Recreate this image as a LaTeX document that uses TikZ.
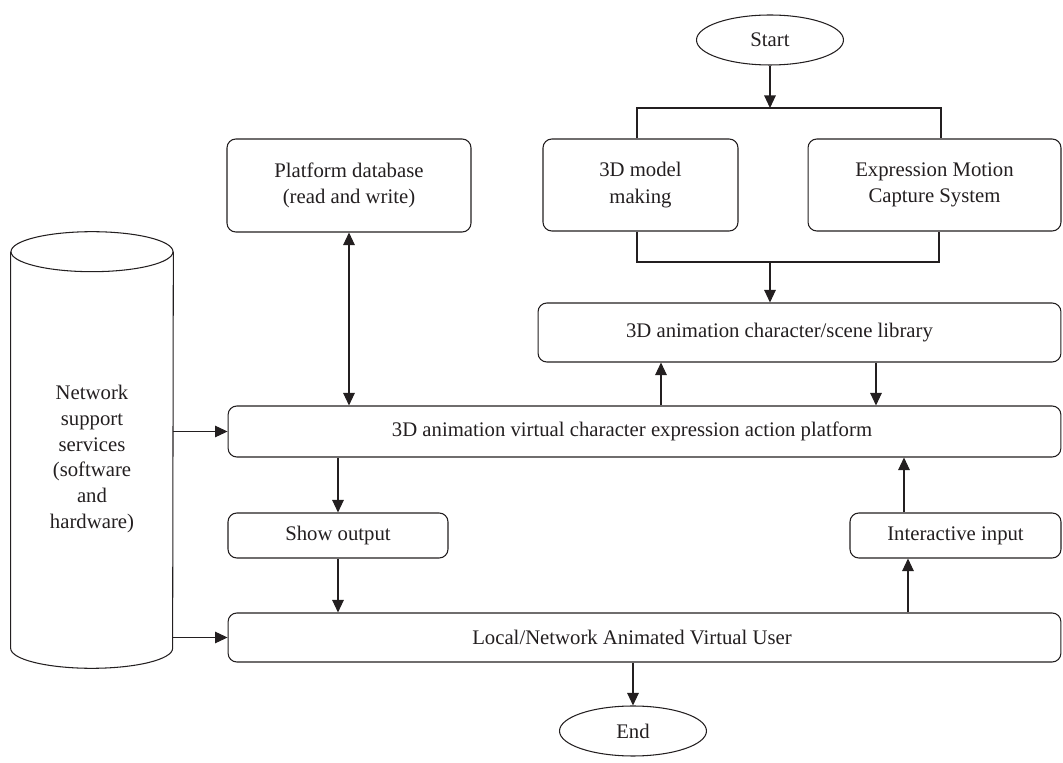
\documentclass[tikz,border=0pt]{standalone}
\usepackage{fontspec}
\setmainfont{Liberation Serif}
\usepackage{tikz}
\usetikzlibrary{shapes.geometric, arrows.meta, positioning, calc}
\definecolor{inkgray}{HTML}{231F20}

\begin{document}
\begin{tikzpicture}[
    x=0.02cm, y=-0.02cm,
    every node/.style={font=\fontsize{11.8}{15}\selectfont, text=inkgray},
    block/.style={rectangle, rounded corners=5pt, draw=inkgray, line width=0.6pt, fill=white, align=center, minimum width=#1},
    terminal/.style={ellipse, draw=inkgray, line width=0.6pt, minimum width=2.94cm, minimum height=1cm},
    line/.style={draw=inkgray, line width=0.6pt},
    arr/.style={-{Triangle[length=0.25cm, width=0.23cm]}, line width=0.6pt, color=inkgray},
    darr/.style={{Triangle[length=0.25cm, width=0.23cm]}-{Triangle[length=0.25cm, width=0.23cm]}, line width=0.6pt, color=inkgray},
]
\useasboundingbox (0,0) rectangle (1063,763);

% ─── Start / End ───
\node[terminal] (start) at (770,40) {Start};
\node[terminal] (end) at (633,731) {End};

% ─── Top row ───
\node[block=4.88cm, minimum height=1.86cm] (dbase) at (349,185.5) {Platform database\\(read and write)};
\node[block=3.9cm, minimum height=1.84cm] (model) at (640.5,185) {3D model\\making};
\node[block=5.06cm, minimum height=1.84cm] (capture) at (934.5,185) {Expression Motion\\Capture System};

% ─── Library and platform ───
\node[block=10.46cm, minimum height=1.18cm] (library) at (799.5,332.5) {\hspace*{-0.8cm}3D animation character/scene library};
\node[block=16.66cm, minimum height=1.02cm] (platform) at (644.5,431.5) {\hspace*{-0.5cm}3D animation virtual character expression action platform};

% ─── Output / input ───
\node[block=4.4cm, minimum height=0.9cm] (showout) at (338,535.5) {Show output};
\node[block=4.22cm, minimum height=0.9cm] (input) at (955.5,535.5) {Interactive input};

% ─── User ───
\node[block=16.66cm, minimum height=0.98cm] (user) at (644.5,637.5) {\hspace*{-0.5cm}Local/Network Animated Virtual User};

% ─── Network services (cylinder) ───
\node[rectangle, minimum width=3.24cm, minimum height=8.72cm, align=center,
      font=\fontsize{11.8}{14.6}\selectfont] (net) at (92,459)
    {Network\\support\\services\\(software\\and\\hardware)};
\draw[line] ([yshift=-0.22cm]net.north west) -- ([yshift=0.58cm]net.south west)
    arc[start angle=180, end angle=360, x radius=1.62cm, y radius=0.4cm] -- ([yshift=-0.22cm]net.north east);
\draw[line] ([yshift=-0.22cm]net.north) ellipse[x radius=1.62cm, y radius=0.4cm];

% ─── Helper coordinates ───
\coordinate (split) at (770,108);
\coordinate (merge) at (770,262);
\coordinate (upx) at (661,0);
\coordinate (downx) at (876,0);
\coordinate (inx) at (904,0);
\coordinate (userx) at (908,0);

% ─── Arrows ───
\draw[arr] (start) -- (split);
\draw[line] ([xshift=-0.07cm]model.north) |- (split) -| ([xshift=0.13cm]capture.north);
\draw[line] ([xshift=-0.07cm]model.south) |- (merge) -| ([xshift=0.09cm]capture.south);
\draw[arr] (merge) -- (merge |- library.north);
\draw[darr] (dbase.south) -- (dbase.south |- platform.north);
\draw[arr] (upx |- platform.north) -- (upx |- library.south);
\draw[arr] (downx |- library.south) -- (downx |- platform.north);
\draw[arr] (showout.north |- platform.south) -- (showout.north);
\draw[arr] (showout.south) -- (showout.south |- user.north);
\draw[arr] (userx |- user.north) -- (userx |- input.south);
\draw[arr] (inx |- input.north) -- (inx |- platform.south);
\draw[arr] (end.north |- user.south) -- (end.north);
\draw[arr] (net.east |- platform.west) -- (platform.west);
\draw[arr] (net.east |- user.west) -- (user.west);

\end{tikzpicture}
\end{document}
